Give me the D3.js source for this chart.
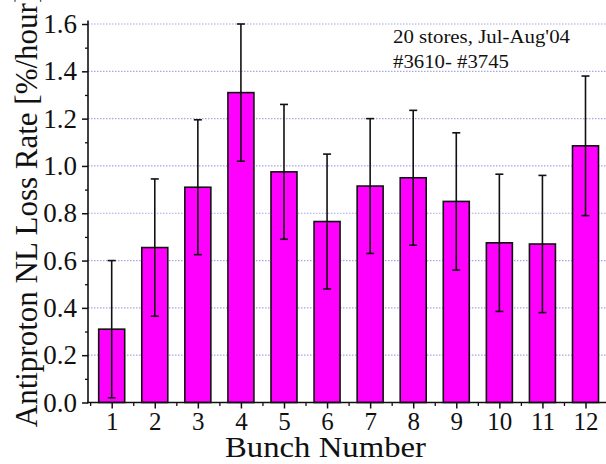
<!DOCTYPE html>
<html><head><meta charset="utf-8">
<script src="https://cdn.jsdelivr.net/npm/d3@7"></script>
<style>
html,body{margin:0;padding:0;background:#fff;}
svg{display:block;}
text{font-family:"Liberation Serif","Times New Roman",serif;fill:#111;}
</style></head>
<body>
<svg id="c" width="606" height="464"></svg>
<script>
const bunches = [1,2,3,4,5,6,7,8,9,10,11,12];
const lossRate = [0.31,0.655,0.91,1.31,0.975,0.765,0.915,0.95,0.85,0.675,0.67,1.085];
const lossErr = [0.29,0.29,0.285,0.29,0.285,0.285,0.285,0.285,0.29,0.29,0.29,0.295];
const yTicks = [0.0,0.2,0.4,0.6,0.8,1.0,1.2,1.4,1.6];
const yMinorTicks = [0.1,0.3,0.5,0.7,0.9,1.1,1.3,1.5];
const xMinorTicks = [0.5,1.5,2.5,3.5,4.5,5.5,6.5,7.5,8.5,9.5,10.5,11.5,12.5];
const noteLines = ["20 stores, Jul-Aug'04", "#3610- #3745"];
const xTitle = "Bunch Number";
const yTitle = "Antiproton NL Loss Rate [%/hour]";

const svg = d3.select("#c");
const x = d3.scaleLinear().domain([1,12]).range([111.7,585.5]);
const y = d3.scaleLinear().domain([0,1.6]).range([402.5,24]);
const axisX0 = 88, axisRight = 606;
const barW = 26;

// gridlines
svg.append("g").selectAll("line").data(yTicks.filter(d=>d>0)).join("line")
  .attr("x1",axisX0).attr("x2",axisRight)
  .attr("y1",d=>y(d)).attr("y2",d=>y(d))
  .attr("stroke","#a6a6e6").attr("stroke-width",1.2)
  .attr("stroke-dasharray","1.5,1.5");

// bars
svg.append("g").selectAll("rect").data(bunches).join("rect")
  .attr("x",(d)=>x(d)-barW/2)
  .attr("width",barW)
  .attr("y",(d,i)=>y(lossRate[i]))
  .attr("height",(d,i)=>y(0)-y(lossRate[i]))
  .attr("fill","#ff00ff").attr("stroke","#111").attr("stroke-width",1.6);

// error bars
const eb = svg.append("g").attr("stroke","#111").attr("stroke-width",1.6);
eb.selectAll("line.v").data(bunches).join("line").attr("class","v")
  .attr("x1",d=>x(d)).attr("x2",d=>x(d))
  .attr("y1",(d,i)=>y(lossRate[i]-lossErr[i]))
  .attr("y2",(d,i)=>y(lossRate[i]+lossErr[i]));
eb.selectAll("line.t").data(bunches).join("line").attr("class","t")
  .attr("x1",d=>x(d)-4).attr("x2",d=>x(d)+4)
  .attr("y1",(d,i)=>y(lossRate[i]+lossErr[i]))
  .attr("y2",(d,i)=>y(lossRate[i]+lossErr[i]));
eb.selectAll("line.b").data(bunches).join("line").attr("class","b")
  .attr("x1",d=>x(d)-4).attr("x2",d=>x(d)+4)
  .attr("y1",(d,i)=>y(lossRate[i]-lossErr[i]))
  .attr("y2",(d,i)=>y(lossRate[i]-lossErr[i]));

// y axis
const gy = svg.append("g").attr("transform",`translate(${axisX0},0)`)
  .call(d3.axisLeft(y).tickValues(yTicks).tickFormat(d3.format(".1f")).tickSize(6).tickPadding(5));
gy.select(".domain").remove();
gy.selectAll(".tick line").attr("stroke","#111").attr("stroke-width",1.5);
gy.selectAll(".tick text").attr("font-size",27).attr("font-family","Liberation Serif").attr("fill","#111");
const gym = svg.append("g").attr("transform",`translate(${axisX0},0)`)
  .call(d3.axisLeft(y).tickValues(yMinorTicks).tickFormat("").tickSize(3));
gym.select(".domain").remove();
gym.selectAll(".tick line").attr("stroke","#111").attr("stroke-width",1.3);
svg.append("line").attr("x1",axisX0).attr("x2",axisX0).attr("y1",y(0)+0.75).attr("y2",y(1.615))
  .attr("stroke","#111").attr("stroke-width",1.6);

// x axis
const gx = svg.append("g").attr("transform",`translate(0,${y(0)})`)
  .call(d3.axisBottom(x).tickValues(bunches).tickFormat(d3.format("d")).tickSize(6).tickPadding(4));
gx.select(".domain").remove();
gx.selectAll(".tick line").attr("stroke","#111").attr("stroke-width",1.5);
gx.selectAll(".tick text").attr("font-size",25).attr("font-family","Liberation Serif").attr("fill","#111");
const gxm = svg.append("g").attr("transform",`translate(0,${y(0)})`)
  .call(d3.axisBottom(x).tickValues(xMinorTicks).tickFormat("").tickSize(3.5));
gxm.select(".domain").remove();
gxm.selectAll(".tick line").attr("stroke","#111").attr("stroke-width",1.3);
svg.append("line").attr("x1",axisX0-0.8).attr("x2",axisRight).attr("y1",y(0)).attr("y2",y(0))
  .attr("stroke","#111").attr("stroke-width",1.6);

// titles
svg.append("text").attr("x",325.5).attr("y",456.5).attr("text-anchor","middle")
  .attr("font-size",29).attr("textLength",201).attr("lengthAdjust","spacingAndGlyphs").text(xTitle);
svg.append("text").attr("transform","translate(37,210) rotate(-90)").attr("text-anchor","middle")
  .attr("font-size",31).text(yTitle);

// note
svg.append("g").selectAll("text").data(noteLines).join("text")
  .attr("x",393).attr("y",(d,i)=>43+i*25)
  .attr("font-size",18)
  .attr("textLength",(d,i)=>i===0?177:116).attr("lengthAdjust","spacingAndGlyphs")
  .text(d=>d);
</script>
</body></html>
